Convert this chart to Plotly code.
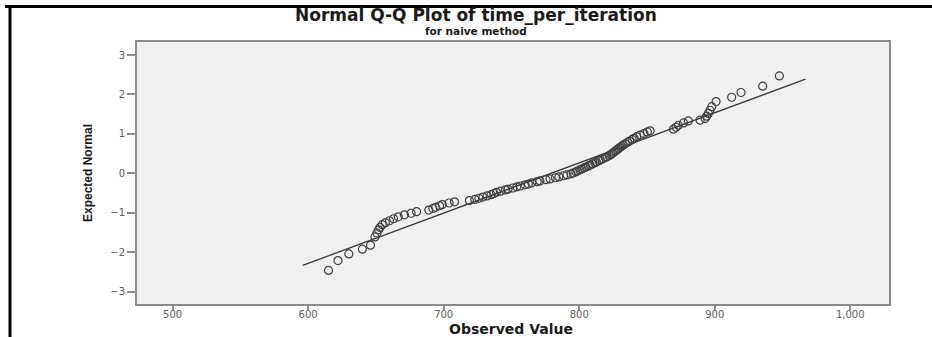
import plotly.graph_objects as go

# ---- data ----
observed_value = [
    615.0, 622.0, 630.0, 640.0, 646.0, 649.3, 650.7, 652.0, 653.0, 654.7,
    657.0, 660.0, 663.0, 666.5, 671.0, 676.0, 680.0, 689.0, 692.0, 694.0,
    697.0, 699.0, 704.0, 708.0, 719.0, 723.0, 726.0, 729.0, 732.0, 735.0,
    737.0, 739.0, 742.0, 745.5, 747.5, 751.0, 754.0, 756.5, 760.0, 762.5,
    765.0, 769.0, 771.0, 775.5, 778.5, 782.5, 785.0, 788.5, 791.0, 794.0,
    795.6, 797.5, 798.7, 800.6, 801.8, 803.7, 804.9, 806.8, 808.0, 809.8,
    811.5, 812.7, 814.5, 815.6, 817.4, 819.2, 820.4, 822.1, 823.4, 824.6,
    825.7, 826.8, 828.0, 829.1, 830.2, 831.4, 832.5, 834.0, 835.8, 837.2,
    839.1, 840.5, 842.4, 845.0, 847.7, 850.3, 852.3, 869.5, 871.5, 873.2,
    877.0, 880.5, 889.2, 892.9, 894.0, 895.3, 896.5, 897.8, 901.0, 912.5,
    919.4, 935.4, 947.7,
]
expected_normal = [
    -2.46, -2.21, -2.04, -1.92, -1.82, -1.61, -1.51, -1.43, -1.37, -1.30,
    -1.25, -1.20, -1.15, -1.10, -1.05, -1.01, -0.97, -0.93, -0.89, -0.86,
    -0.82, -0.79, -0.75, -0.72, -0.69, -0.66, -0.63, -0.60, -0.57, -0.54,
    -0.51, -0.48, -0.45, -0.42, -0.40, -0.37, -0.34, -0.32, -0.29, -0.27,
    -0.24, -0.21, -0.19, -0.16, -0.14, -0.11, -0.09, -0.06, -0.04, -0.01,
    0.01, 0.04, 0.06, 0.09, 0.11, 0.14, 0.16, 0.19, 0.21, 0.24,
    0.27, 0.29, 0.32, 0.34, 0.37, 0.40, 0.42, 0.45, 0.48, 0.51,
    0.54, 0.57, 0.60, 0.63, 0.66, 0.69, 0.72, 0.75, 0.79, 0.82,
    0.86, 0.89, 0.93, 0.97, 1.01, 1.05, 1.08, 1.12, 1.17, 1.22,
    1.28, 1.33, 1.35, 1.39, 1.45, 1.52, 1.60, 1.69, 1.82, 1.93,
    2.05, 2.21, 2.47,
]
ref_line_x = [596, 967]
ref_line_y = [-2.33, 2.39]

x_tick_vals = [500, 600, 700, 800, 900, 1000]
x_tick_text = ["500", "600", "700", "800", "900", "1,000"]
y_tick_vals = [-3, -2, -1, 0, 1, 2, 3]
y_tick_text = ["\u22123", "\u22122", "\u22121", "0", "1", "2", "3"]

title_text = "Normal Q-Q Plot of time_per_iteration"
subtitle_text = "for naive method"
x_title = "Observed Value"
y_title = "Expected Normal"

# ---- layout geometry (pixels) ----
W, H = 932, 337
L, R, T, B = 137, 889, 42, 304
pw, ph = R - L, B - T


def px(x):
    return (x - L) / pw


def py(y):
    return (B - y) / ph


fig = go.Figure()
fig.add_trace(go.Scatter(
    x=ref_line_x, y=ref_line_y, mode="lines",
    line=dict(color="#3a3a3a", width=1.3),
    hoverinfo="skip", showlegend=False,
))
fig.add_trace(go.Scatter(
    x=observed_value, y=expected_normal, mode="markers",
    marker=dict(symbol="circle-open", size=8, color="#404040",
                line=dict(width=1.2, color="#404040")),
    showlegend=False,
))

axis_common = dict(
    showgrid=False, zeroline=False, showline=True, mirror=True,
    linecolor="#8c8c8c", linewidth=2, ticks="outside", tickcolor="#8c8c8c",
    tickwidth=1.5, tickfont=dict(family="DejaVu Sans", size=10, color="#606060"),
)

fig.update_layout(
    width=W, height=H,
    margin=dict(l=L, r=W - R, t=T, b=H - B, pad=0),
    paper_bgcolor="white", plot_bgcolor="#f0f0f0",
    xaxis=dict(range=[473.7, 1028.6], tickvals=x_tick_vals, ticktext=x_tick_text,
               ticklen=4, ticklabelstandoff=-4, **axis_common),
    yaxis=dict(range=[-3.31, 3.33], tickvals=y_tick_vals, ticktext=y_tick_text,
               ticklen=8, **axis_common),
    showlegend=False,
    annotations=[
        dict(text="<b>" + title_text + "</b>", x=px(476), y=py(15),
             xref="paper", yref="paper", xanchor="center", yanchor="middle",
             showarrow=False, font=dict(family="DejaVu Sans", size=17, color="#1a1a1a")),
        dict(text="<b>" + subtitle_text + "</b>", x=px(476), y=py(31.5),
             xref="paper", yref="paper", xanchor="center", yanchor="middle",
             showarrow=False, font=dict(family="DejaVu Sans", size=10.5, color="#1a1a1a")),
        dict(text="<b>" + x_title + "</b>", x=px(511), y=py(329),
             xref="paper", yref="paper", xanchor="center", yanchor="middle",
             showarrow=False, font=dict(family="DejaVu Sans", size=14, color="#1a1a1a")),
        dict(text="<b>" + y_title + "</b>", x=px(88), y=py(173),
             xref="paper", yref="paper", xanchor="center", yanchor="middle",
             textangle=-90, showarrow=False,
             font=dict(family="Liberation Sans Narrow, Liberation Sans",
                       size=12, color="#1a1a1a")),
    ],
    shapes=[
        dict(type="line", xref="paper", yref="paper",
             x0=px(5), x1=px(932), y0=py(6.5), y1=py(6.5),
             line=dict(color="black", width=3)),
        dict(type="line", xref="paper", yref="paper",
             x0=px(10), x1=px(10), y0=py(5), y1=py(337),
             line=dict(color="black", width=3)),
    ],
)

fig.write_html("out.html")
